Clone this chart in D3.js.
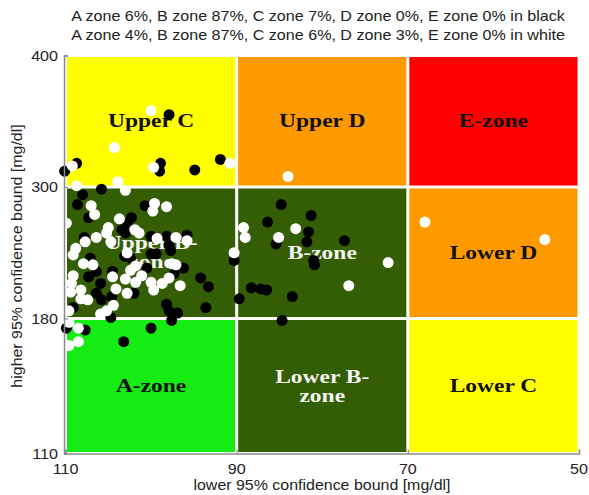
<!DOCTYPE html>
<html>
<head>
<meta charset="utf-8">
<script src="https://cdn.jsdelivr.net/npm/d3@7"></script>
<style>
  html, body { margin: 0; padding: 0; background: #fff; }
  svg { display: block; }
</style>
</head>
<body>
<div id="chart"></div>
<script>
(function () {
  var width = 589;
  var height = 495;

  var titleLines = [
    'A zone 6%, B zone 87%, C zone 7%, D zone 0%, E zone 0% in black',
    'A zone 4%, B zone 87%, C zone 6%, D zone 3%, E zone 0% in white'
  ];
  var xLabel = 'lower 95% confidence bound [mg/dl]';
  var yLabel = 'higher 95% confidence bound [mg/dl]';

  // zone boundaries (x reversed: 110 on the left)
  var xBreaks = [110, 90, 70, 50];
  var yBreaks = [110, 180, 300, 400];
  var xTicks = [110, 90, 70, 50];
  var yTicks = [110, 180, 300, 400];

  // rows from bottom to top, columns from left to right
  var zoneNames = [
    [['A-zone'], ['Lower B-', 'zone'], ['Lower C']],
    [['Upper B-', 'zone'], ['B-zone'], ['Lower D']],
    [['Upper C'], ['Upper D'], ['E-zone']]
  ];
  var zoneColors = [
    ['#14ec14', '#335e03', '#ffff00'],
    ['#335e03', '#335e03', '#ff9900'],
    ['#ffff00', '#ff9900', '#ff0000']
  ];
  var zoneTextColors = [
    ['#111', '#f4f4f4', '#111'],
    ['#f4f4f4', '#f4f4f4', '#111'],
    ['#111', '#111', '#111']
  ];

  // [lower bound, higher bound]
  var blackPoints = [
    [97.9, 355], [108.7, 318], [110.1, 312], [98.9, 318], [99.0, 312],
    [94.9, 313], [91.9, 321], [105.8, 298], [108.0, 293], [108.6, 284],
    [100.7, 283], [102.3, 272], [102.8, 267], [103.4, 261], [103.0, 258],
    [107.8, 254], [100.0, 255], [98.2, 255], [95.8, 256], [97.9, 247],
    [107.1, 235], [106.4, 223], [107.3, 218], [105.9, 212], [104.5, 223],
    [102.4, 235], [103.1, 237], [100.0, 239], [99.4, 239], [97.7, 242],
    [100.5, 226], [97.3, 221], [96.2, 226], [94.2, 217], [93.3, 209],
    [102.0, 203], [104.6, 200], [106.4, 203], [105.8, 197], [109.1, 190],
    [104.7, 181], [98.2, 193], [97.9, 187], [96.9, 185], [93.6, 190],
    [89.7, 198], [90.3, 233], [97.6, 179], [109.9, 175], [107.7, 174],
    [100.0, 175], [103.2, 168], [84.8, 284], [81.3, 274], [86.4, 268],
    [81.6, 259], [85.4, 248], [81.8, 250], [77.4, 251], [81.0, 233],
    [80.9, 229], [88.3, 208], [87.2, 207], [86.5, 206], [83.5, 200],
    [84.7, 179], [107.3, 272]
  ];
  var whitePoints = [
    [100.0, 358], [104.3, 330], [109.2, 316], [99.7, 315], [90.8, 318],
    [103.9, 304], [108.7, 301], [84.0, 308], [103.0, 297], [107.0, 283],
    [106.6, 275], [99.6, 285], [99.8, 278], [98.2, 282], [103.7, 271],
    [105.0, 263], [105.2, 258], [101.9, 261], [101.4, 258], [106.4, 254],
    [107.7, 250], [104.7, 250], [99.3, 253], [97.1, 254], [95.8, 251],
    [108.8, 244], [90.3, 240], [109.9, 267], [109.1, 238], [107.9, 230],
    [106.8, 229], [109.1, 219], [109.3, 212], [108.2, 206], [109.4, 204],
    [104.5, 218], [103.0, 216], [102.4, 224], [101.8, 228], [102.8, 240],
    [101.8, 213], [101.1, 219], [100.0, 213], [98.7, 212], [97.9, 217],
    [97.1, 229], [97.6, 230], [96.6, 210], [99.7, 206], [102.8, 203],
    [104.1, 207], [107.4, 197], [108.2, 198], [109.6, 187], [104.4, 192],
    [105.2, 187], [105.9, 184], [108.5, 175], [108.5, 168], [109.6, 166],
    [109.6, 178], [89.2, 263], [89.0, 254], [83.1, 262], [85.1, 254],
    [72.3, 231], [76.9, 210], [68.0, 268], [54.0, 252]
  ];

  var sansFont = '"Liberation Sans", Arial, Helvetica, sans-serif';
  var serifFont = '"Liberation Serif", "Times New Roman", serif';

  var svg = d3.select('#chart')
    .append('svg')
    .attr('width', width)
    .attr('height', height);

  var x = d3.scaleLinear().domain([110, 50]).range([65.5, 579]);
  var y = d3.scaleLinear().domain(yBreaks).range([453.5, 318.5, 187, 55.5]);

  // the source picture is a bit wider than tall, so text is stretched sideways
  function stretchedText(g, px, py, str, size, stretch, anchor, fill, family, weight, rotate) {
    return g.append('text')
      .attr('transform', 'translate(' + px + ',' + py + ')' +
        (rotate ? ' rotate(' + rotate + ')' : '') + ' scale(' + stretch + ',1)')
      .attr('text-anchor', anchor)
      .attr('font-family', family)
      .attr('font-size', size)
      .attr('font-weight', weight || 'normal')
      .attr('fill', fill)
      .text(str);
  }

  // zones
  var zoneLayer = svg.append('g');
  var gap = 1.5;
  zoneNames.forEach(function (row, r) {
    row.forEach(function (lines, c) {
      var x0 = x(xBreaks[c]) + gap;
      var x1 = x(xBreaks[c + 1]) - gap;
      var y0 = y(yBreaks[r + 1]) + gap;
      var y1 = y(yBreaks[r]) - gap;
      zoneLayer.append('rect')
        .attr('x', x0)
        .attr('y', y0)
        .attr('width', x1 - x0)
        .attr('height', y1 - y0)
        .attr('fill', zoneColors[r][c]);
      var cx = (x0 + x1) / 2;
      var cy = (y0 + y1) / 2;
      var lineH = 19;
      lines.forEach(function (t, i) {
        var off = (i - (lines.length - 1) / 2) * lineH;
        stretchedText(zoneLayer, cx, cy + off + 6, t, 18.5, 1.27, 'middle',
          zoneTextColors[r][c], serifFont, 'bold');
      });
    });
  });

  // points
  var pointLayer = svg.append('g');
  pointLayer.selectAll('circle.black')
    .data(blackPoints)
    .enter().append('circle')
    .attr('class', 'black')
    .attr('cx', function (d) { return x(d[0]); })
    .attr('cy', function (d) { return y(d[1]); })
    .attr('r', 5.5)
    .attr('fill', '#000');
  pointLayer.selectAll('circle.white')
    .data(whitePoints)
    .enter().append('circle')
    .attr('class', 'white')
    .attr('cx', function (d) { return x(d[0]); })
    .attr('cy', function (d) { return y(d[1]); })
    .attr('r', 5.5)
    .attr('fill', '#fff');

  // axes
  var axisColor = '#8a8a8a';
  var axisX = svg.append('g')
    .attr('transform', 'translate(0,' + 453.5 + ')')
    .call(d3.axisBottom(x).tickValues(xTicks).tickSize(-4).tickFormat(''));
  var axisY = svg.append('g')
    .attr('transform', 'translate(' + 64 + ',0)')
    .call(d3.axisLeft(y).tickValues(yTicks).tickSize(-4).tickFormat(''));
  [axisX, axisY].forEach(function (a) {
    a.select('.domain').attr('stroke', axisColor).attr('stroke-width', 1.5);
    a.selectAll('.tick line').attr('stroke', axisColor).attr('stroke-width', 1.2);
  });

  var labelLayer = svg.append('g');
  xTicks.forEach(function (v) {
    stretchedText(labelLayer, x(v), 474, String(v), 14, 1.15, 'middle', '#222', sansFont);
  });
  yTicks.forEach(function (v) {
    stretchedText(labelLayer, 58, y(v) + 5, String(v), 14, 1.15, 'end', '#222', sansFont);
  });

  stretchedText(labelLayer, 322, 490, xLabel, 14, 1.14, 'middle', '#222', sansFont);
  stretchedText(labelLayer, 22, 256, yLabel, 14, 1.14, 'middle', '#222', sansFont, 'normal', -90);

  titleLines.forEach(function (t, i) {
    stretchedText(labelLayer, 318, 21 + i * 19, t, 14, 1.15, 'middle', '#222', sansFont);
  });
})();
</script>
</body>
</html>
